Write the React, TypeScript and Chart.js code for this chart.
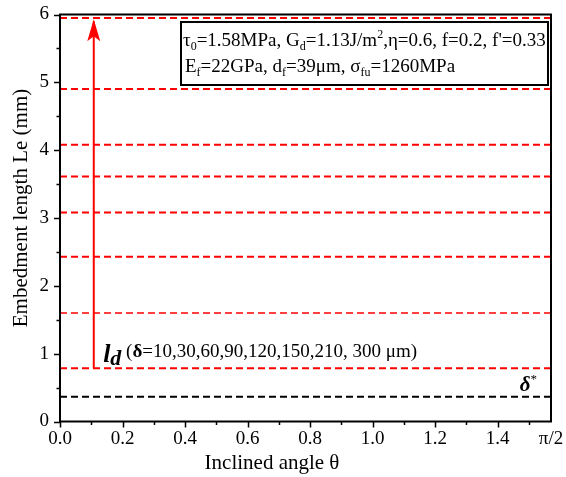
import React, { useEffect, useRef } from "react";
import { Chart, registerables } from "chart.js";

Chart.register(...registerables);

const HALF_PI = Math.PI / 2;
const DELTAS = [10, 30, 60, 90, 120, 150, 210, 300];
const LD_VALUES = [0.785, 1.6, 2.43, 3.08, 3.61, 4.08, 4.9, 5.95];
const LD_ALPHA = [1, 0.75, 1, 1, 1, 1, 1, 1];
const DELTA_STAR = 0.366;
const ARROW_X = 0.108;
const ARROW_Y = [0.785, 5.9];
const X_LABEL_TICKS = [0, 0.2, 0.4, 0.6, 0.8, 1.0, 1.2, 1.4, HALF_PI];
const X_LABELS = ["0.0", "0.2", "0.4", "0.6", "0.8", "1.0", "1.2", "1.4", "π/2"];
const X_MINOR = [0.1, 0.3, 0.5, 0.7, 0.9, 1.1, 1.3, 1.5];
const Y_MAJOR = [0, 1, 2, 3, 4, 5, 6];
const Y_MINOR = [0.5, 1.5, 2.5, 3.5, 4.5, 5.5];
const X_TITLE = "Inclined angle θ";
const Y_TITLE = "Embedment length Le (mm)";

const SERIF = '"Liberation Serif", "Times New Roman", serif';

type Run = { t: string; font: string; dy?: number };

function drawRuns(ctx: CanvasRenderingContext2D, x: number, y: number, runs: Run[]) {
  let cx = x;
  ctx.textBaseline = "alphabetic";
  ctx.textAlign = "left";
  for (const r of runs) {
    ctx.font = r.font + " " + SERIF;
    ctx.fillText(r.t, cx, y + (r.dy || 0));
    cx += ctx.measureText(r.t).width;
  }
  return cx;
}

const overlay = {
  id: "overlay",
  afterDraw(chart: any) {
    const { ctx, chartArea } = chart;
    const xs = chart.scales.x;
    const ys = chart.scales.y;
    const { left, right, top, bottom } = chartArea;
    ctx.save();
    // frame
    ctx.strokeStyle = "#000";
    ctx.lineWidth = 2;
    ctx.strokeRect(left, top, right - left, bottom - top);
    // ticks
    ctx.lineWidth = 1.5;
    ctx.beginPath();
    for (const v of X_LABEL_TICKS.slice(0, -1)) {
      const px = Math.round(xs.getPixelForValue(v)) + 0.5;
      ctx.moveTo(px, bottom);
      ctx.lineTo(px, bottom + 6);
    }
    for (const v of X_MINOR) {
      const px = Math.round(xs.getPixelForValue(v)) + 0.5;
      ctx.moveTo(px, bottom);
      ctx.lineTo(px, bottom + 3.5);
    }
    for (const v of Y_MAJOR) {
      const py = Math.round(ys.getPixelForValue(v)) + 0.5;
      ctx.moveTo(left, py);
      ctx.lineTo(left - 6, py);
    }
    for (const v of Y_MINOR) {
      const py = Math.round(ys.getPixelForValue(v)) + 0.5;
      ctx.moveTo(left, py);
      ctx.lineTo(left - 3.5, py);
    }
    ctx.stroke();

    // axis titles
    ctx.fillStyle = "#000";
    ctx.font = "21px " + SERIF;
    ctx.textAlign = "center";
    ctx.textBaseline = "middle";
    ctx.fillText(X_TITLE, 272, 463);
    ctx.save();
    ctx.translate(21, 208);
    ctx.rotate(-Math.PI / 2);
    ctx.fillText(Y_TITLE, 0, 0);
    ctx.restore();

    // arrow head
    const ax = xs.getPixelForValue(ARROW_X);
    const tipY = ys.getPixelForValue(ARROW_Y[1]) - 2;
    ctx.fillStyle = "#ff0000";
    ctx.beginPath();
    ctx.moveTo(ax, tipY);
    ctx.lineTo(ax + 6.5, tipY + 22);
    ctx.lineTo(ax, tipY + 17);
    ctx.lineTo(ax - 6.5, tipY + 22);
    ctx.closePath();
    ctx.fill();

    // l_d label
    ctx.fillStyle = "#000";
    const lx = xs.getPixelForValue(0.138);
    const ly = ys.getPixelForValue(0.95);
    drawRuns(ctx, lx, ly, [
      { t: "l", font: "italic bold 26px", dy: 5 },
      { t: "d", font: "italic bold 22px", dy: 8 },
      { t: " (", font: "19px" },
      { t: "δ", font: "bold 19px" },
      { t: "=" + DELTAS.slice(0, -1).join(",") + ", " + DELTAS[DELTAS.length - 1] + " μm)", font: "19px" },
    ]);

    // delta star
    const sx = xs.getPixelForValue(1.471);
    const sy = ys.getPixelForValue(0.45);
    drawRuns(ctx, sx, sy, [
      { t: "δ", font: "italic bold 21px" },
      { t: "*", font: "13px", dy: -8 },
    ]);

    // parameter box
    const bx = 181, by = 22, bw = 367, bh = 63;
    ctx.fillStyle = "#fff";
    ctx.fillRect(bx, by, bw, bh);
    ctx.strokeStyle = "#000";
    ctx.lineWidth = 2;
    ctx.strokeRect(bx, by, bw, bh);
    ctx.fillStyle = "#000";
    const F = "19px", S = "12px";
    drawRuns(ctx, bx + 2, by + 24, [
      { t: "τ", font: F },
      { t: "0", font: S, dy: 4 },
      { t: "=1.58MPa, G", font: F },
      { t: "d", font: S, dy: 4 },
      { t: "=1.13J/m", font: F },
      { t: "2", font: S, dy: -8 },
      { t: ",η=0.6, f=0.2, f'=0.33", font: F },
    ]);
    drawRuns(ctx, bx + 4, by + 50, [
      { t: "E", font: F },
      { t: "f", font: S, dy: 4 },
      { t: "=22GPa, d", font: F },
      { t: "f", font: S, dy: 4 },
      { t: "=39μm, σ", font: F },
      { t: "fu", font: S, dy: 4 },
      { t: "=1260MPa", font: F },
    ]);
    ctx.restore();
  },
};

export default function App() {
  const ref = useRef<HTMLCanvasElement>(null);
  useEffect(() => {
    document.body.style.margin = "0";
    const datasets: any[] = LD_VALUES.map((v, i) => ({
      data: [
        { x: 0, y: v },
        { x: HALF_PI, y: v },
      ],
      borderColor: `rgba(255,0,0,${LD_ALPHA[i]})`,
      borderWidth: 2,
      borderDash: [7, 4],
      pointRadius: 0,
      showLine: true,
    }));
    datasets.push({
      data: [
        { x: 0, y: DELTA_STAR },
        { x: HALF_PI, y: DELTA_STAR },
      ],
      borderColor: "#000",
      borderWidth: 2,
      borderDash: [7, 4],
      pointRadius: 0,
      showLine: true,
    });
    datasets.push({
      data: [
        { x: ARROW_X, y: ARROW_Y[0] },
        { x: ARROW_X, y: ARROW_Y[1] },
      ],
      borderColor: "#ff0000",
      borderWidth: 2,
      pointRadius: 0,
      showLine: true,
    });
    const chart = new Chart(ref.current!, {
      type: "scatter",
      data: { datasets },
      options: {
        animation: false,
        responsive: true,
        maintainAspectRatio: false,
        layout: { padding: { top: 14.5, right: 15, left: 0, bottom: 0 } },
        plugins: { legend: { display: false }, tooltip: { enabled: false } },
        scales: {
          x: {
            type: "linear",
            min: 0,
            max: HALF_PI,
            afterFit: (s: any) => {
              s.height = 55.5;
              s.paddingLeft = 0;
              s.paddingRight = 0;
            },
            afterBuildTicks: (s: any) => {
              s.ticks = X_LABEL_TICKS.map((v) => ({ value: v }));
            },
            grid: { display: false, drawTicks: false },
            border: { display: false },
            ticks: {
              autoSkip: false,
              maxRotation: 0,
              padding: 6,
              color: "#000",
              font: { family: SERIF, size: 19 },
              callback: (_v: any, i: number) => X_LABELS[i],
            },
            title: { display: false },
          },
          y: {
            type: "linear",
            min: 0,
            max: 6,
            afterFit: (s: any) => {
              s.width = 60;
              s.paddingTop = 0;
              s.paddingBottom = 0;
            },
            grid: { display: false, drawTicks: false },
            border: { display: false },
            ticks: {
              stepSize: 1,
              padding: 11,
              color: "#000",
              font: { family: SERIF, size: 19 },
            },
            title: { display: false },
          },
        },
      },
      plugins: [overlay],
    });
    return () => chart.destroy();
  }, []);
  return (
    <div style={{ width: 566, height: 477, position: "relative" }}>
      <canvas ref={ref} />
    </div>
  );
}
